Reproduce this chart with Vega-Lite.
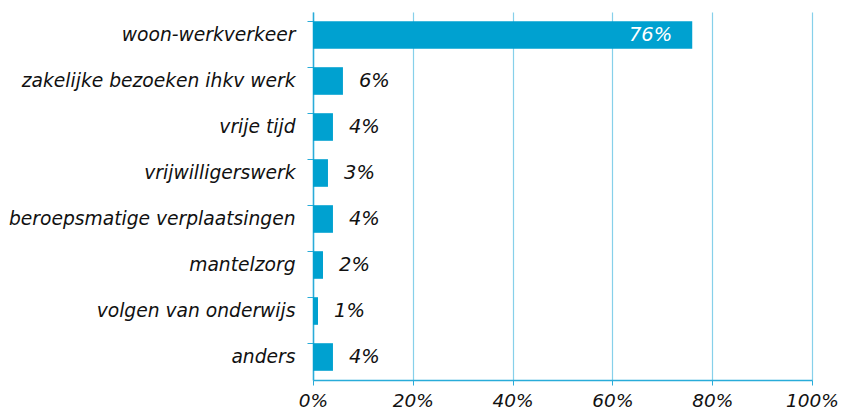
{
  "$schema": "https://vega.github.io/schema/vega-lite/v6.json",
  "width": 499,
  "height": 368,
  "autosize": "none",
  "padding": {"left": 313, "top": 12, "right": 39, "bottom": 34},
  "background": "white",
  "config": {"view": {"stroke": null}, "font": "DejaVu Sans"},
  "data": {"values": [
    {"cat": "woon-werkverkeer", "v": 76, "lab": "76%"},
    {"cat": "zakelijke bezoeken ihkv werk", "v": 6, "lab": "6%"},
    {"cat": "vrije tijd", "v": 4, "lab": "4%"},
    {"cat": "vrijwilligerswerk", "v": 3, "lab": "3%"},
    {"cat": "beroepsmatige verplaatsingen", "v": 4, "lab": "4%"},
    {"cat": "mantelzorg", "v": 2, "lab": "2%"},
    {"cat": "volgen van onderwijs", "v": 1, "lab": "1%"},
    {"cat": "anders", "v": 4, "lab": "4%"}
  ]},
  "encoding": {
    "y": {"field": "cat", "type": "nominal", "sort": null,
      "scale": {"paddingInner": 0.4, "paddingOuter": 0.2},
      "axis": {"title": null, "bandPosition": 0, "labelFontStyle": "italic", "labelFontSize": 18.7,
        "labelColor": "#111", "labelPadding": 12, "tickSize": 6, "tickColor": "#29acd9",
        "domainColor": "#29acd9", "domainWidth": 1.5, "labelBaseline": "middle", "labelLimit": 320}}
  },
  "layer": [
    {
      "mark": {"type": "bar", "color": "#00a1d0"},
      "encoding": {
        "x": {"field": "v", "type": "quantitative",
          "scale": {"domain": [0, 100], "nice": false},
          "axis": {"title": null, "values": [0, 20, 40, 60, 80, 100], "labelExpr": "datum.value + '%'",
            "labelFontStyle": "italic", "labelFontSize": 18.5, "labelColor": "#111", "labelPadding": 6,
            "tickSize": 5, "tickColor": "#29acd9", "domainColor": "#29acd9", "domainWidth": 1.5,
            "grid": true, "gridColor": "#86d0ea", "gridWidth": 1.2, "labelFlush": false}}
      }
    },
    {
      "transform": [{"filter": "datum.v < 50"}],
      "mark": {"type": "text", "align": "left", "dx": 16, "fontSize": 19.5, "fontStyle": "italic", "color": "#111"},
      "encoding": {"x": {"field": "v", "type": "quantitative"}, "text": {"field": "lab"}}
    },
    {
      "transform": [{"filter": "datum.v >= 50"}],
      "mark": {"type": "text", "align": "right", "dx": -20, "fontSize": 19.5, "fontStyle": "italic", "color": "white"},
      "encoding": {"x": {"field": "v", "type": "quantitative"}, "text": {"field": "lab"}}
    }
  ]
}
